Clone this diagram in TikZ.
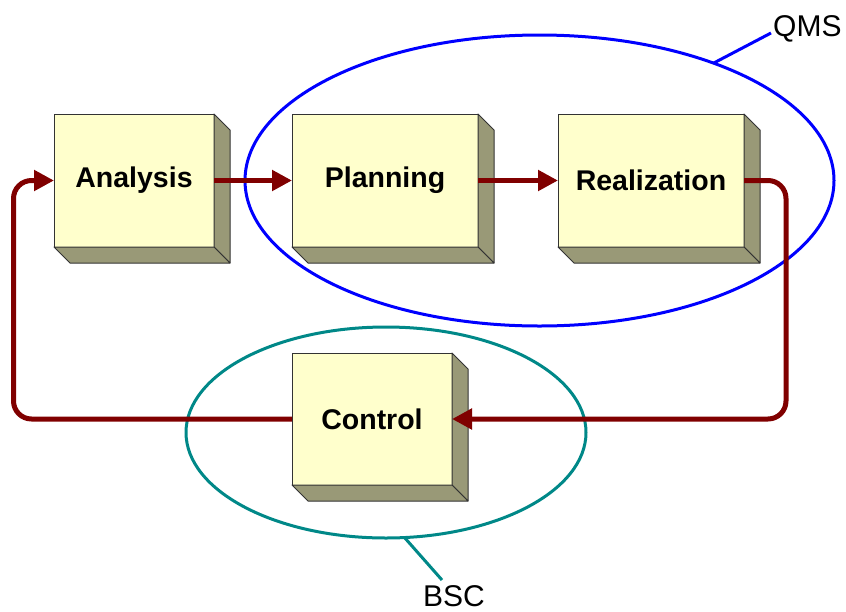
\documentclass[tikz,border=0pt]{standalone}
\usepackage{fontspec}
\setmainfont{Liberation Sans}
\usetikzlibrary{arrows.meta,shapes.geometric}
\definecolor{frontfill}{RGB}{255,255,204}
\definecolor{sidefill}{RGB}{153,153,119}
\definecolor{boxline}{RGB}{51,51,51}
\definecolor{arrowred}{RGB}{128,0,0}
\definecolor{qmsblue}{RGB}{0,0,255}
\definecolor{bscteal}{RGB}{0,136,136}
\tikzset{
  stage/.style={draw=boxline, fill=frontfill, line width=1pt, inner sep=0pt, outer sep=0pt,
    minimum height=133pt, font=\fontsize{28.5pt}{34pt}\selectfont\bfseries},
  sideface/.style={draw=boxline, fill=sidefill, line width=1pt, line join=round},
  flow/.style={draw=arrowred, line width=5pt, -{Triangle[length=20pt,width=20pt]}},
  groupring/.style={ellipse, line width=3pt, inner sep=0pt, outer sep=0pt},
  lbl/.style={inner sep=0pt, font=\fontsize{30pt}{36pt}\selectfont},
}
\newcommand\depthfaces[1]{%
  \filldraw[sideface] (#1.north east) -- ++(16,16) -- ([shift={(16,16)}]#1.south east) -- (#1.south east) -- cycle;
  \filldraw[sideface] (#1.south west) -- ++(16,16) -- ([shift={(16,16)}]#1.south east) -- (#1.south east) -- cycle;
}
\begin{document}
\begin{tikzpicture}[x=1pt,y=-1pt]
\useasboundingbox (0,0) rectangle (846,611);
% group rings
\node[groupring, draw=qmsblue, minimum width=589pt, minimum height=291pt] (qms) at (539.5,180.5) {};
\node[groupring, draw=bscteal, minimum width=400pt, minimum height=211pt] (bsc) at (386,432.5) {};
% labels and leaders
\node[lbl, anchor=base west] (qmslbl) at (773,36) {QMS};
\node[lbl, anchor=base west] (bsclbl) at (423,606) {BSC};
\coordinate (qmsend) at (771,33);
\coordinate (bscend) at (442,580);
\draw[qmsblue, line width=3pt] (qms.34) -- (qmsend);
\draw[bscteal, line width=3pt] (bsc.280) -- (bscend);
% stages
\node[stage, minimum width=160pt] (ana) at (134,180.5) {Analysis};
\node[stage, minimum width=186pt] (plan) at (385,180.5) {Planning};
\node[stage, minimum width=186pt] (real) at (651,180.5) {Realization};
\node[stage, minimum width=160pt, minimum height=132pt] (ctrl) at (372,419) {Control};
\depthfaces{ana}
\depthfaces{plan}
\depthfaces{real}
\depthfaces{ctrl}
% loop helper coordinates
\coordinate (rloop) at (786,0);
\coordinate (lloop) at (13.5,0);
% connectors
\draw[flow] (ana.east) -- (plan.west);
\draw[flow] (plan.east) -- (real.west);
\draw[flow, rounded corners=18pt] (real.east) -| (rloop |- ctrl.east) -- (ctrl.east);
\draw[flow, rounded corners=18pt] (ctrl.west) -| (lloop |- ana.west) -- (ana.west);
\end{tikzpicture}
\end{document}
